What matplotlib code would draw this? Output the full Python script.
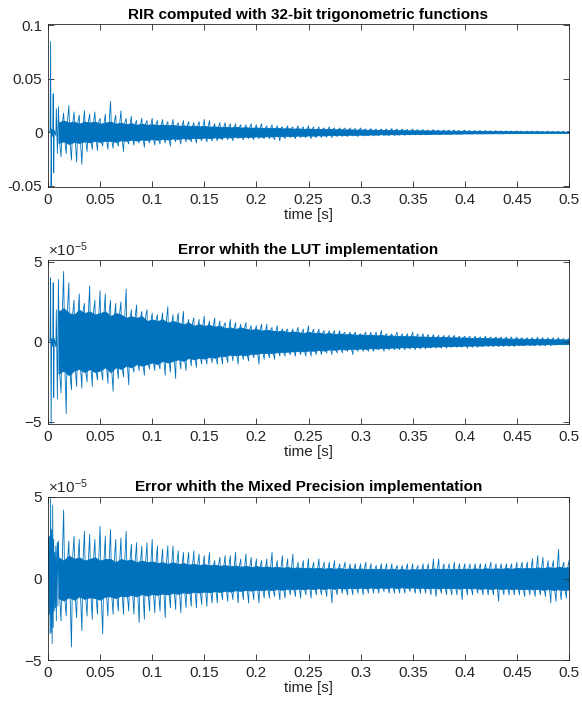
import numpy as np
import matplotlib
matplotlib.use("Agg")
import matplotlib.pyplot as plt
from matplotlib.ticker import ScalarFormatter, FuncFormatter

plt.rcParams['font.family'] = ['Liberation Sans', 'DejaVu Sans']
plt.rcParams['axes.unicode_minus'] = False
plt.rcParams['mathtext.fontset'] = 'custom'
plt.rcParams['mathtext.rm'] = 'Liberation Sans'

# ---- values ----
# every 5 ms from 0.010 to 0.500 s: peak above / below zero (hi, lo)
# and the edges of the dense band (core_hi, core_lo)
t_main = np.round(np.arange(0.010, 0.5001, 0.005), 3)

# panel 1 (units of 0.01)
rir_t0 = [0, 0.002, 0.0025, 0.003, 0.0035, 0.0045, 0.005, 0.0055, 0.006, 0.0075, 0.008, 0.009]
rir_y0 = [0, 0.1, 8.5, -5.5, 0.3, -0.4, 3.6, -3.8, 0.2, -0.3, 2.2, -2.0]
rir_hi = [2.4, 1.8, 2.5, 1.9, 1.6, 2.0, 1.7, 1.9, 1.3, 1.7,
          2.9, 1.6, 2.0, 1.3, 1.5, 1.1, 1.3, 1.1, 1.3, 1.1,
          1.2, 1.0, 1.2, 0.9, 1.1, 1.0, 0.9, 1.0, 1.2, 1.1,
          0.8, 0.9, 0.9, 0.8, 0.8, 0.7, 0.7, 0.8, 0.7, 0.8,
          0.6, 0.7, 0.6, 0.5, 0.6, 0.5, 0.6, 0.5, 0.6, 0.5,
          0.5, 0.4, 0.5, 0.4, 0.4, 0.4, 0.4, 0.35, 0.4, 0.3,
          0.35, 0.3, 0.3, 0.3, 0.35, 0.3, 0.3, 0.25, 0.3, 0.25,
          0.25, 0.2, 0.25, 0.2, 0.2, 0.2, 0.2, 0.15, 0.2, 0.15,
          0.15, 0.15, 0.15, 0.12, 0.15, 0.12, 0.12, 0.1, 0.12, 0.1,
          0.1, 0.1, 0.1, 0.08, 0.1, 0.08, 0.08, 0.08, 0.07]
rir_lo = [-2.3, -2.0, -2.6, -2.8, -3.0, -1.8, -1.6, -1.7, -1.3, -1.6,
          -1.5, -1.3, -1.8, -1.1, -1.2, -1.0, -1.4, -1.0, -1.2, -1.1,
          -1.0, -1.3, -0.9, -1.1, -0.9, -0.9, -1.0, -0.8, -0.9, -0.8,
          -0.8, -0.7, -0.7, -0.8, -0.6, -0.7, -0.6, -0.7, -0.6, -0.6,
          -0.6, -0.7, -0.8, -0.6, -0.5, -0.6, -0.5, -0.5, -0.6, -0.5,
          -0.5, -0.45, -0.5, -0.4, -0.4, -0.4, -0.35, -0.4, -0.35, -0.3,
          -0.35, -0.3, -0.3, -0.3, -0.3, -0.25, -0.3, -0.25, -0.25, -0.25,
          -0.25, -0.2, -0.2, -0.2, -0.2, -0.18, -0.18, -0.15, -0.15, -0.15,
          -0.15, -0.12, -0.12, -0.12, -0.12, -0.1, -0.1, -0.1, -0.1, -0.1,
          -0.1, -0.08, -0.08, -0.08, -0.08, -0.07, -0.07, -0.07, -0.07]
rir_core_hi = [0.9, 1.1, 0.9, 1.0, 0.8, 1.0, 0.9, 1.0, 0.8, 0.9,
               1.0, 0.8, 0.9, 0.75, 0.85, 0.7, 0.8, 0.7, 0.75, 0.68,
               0.72, 0.65, 0.68, 0.6, 0.65, 0.58, 0.62, 0.55, 0.6, 0.52,
               0.55, 0.5, 0.52, 0.46, 0.5, 0.44, 0.47, 0.42, 0.45, 0.4,
               0.42, 0.38, 0.42, 0.36, 0.38, 0.34, 0.36, 0.32, 0.35, 0.3,
               0.32, 0.29, 0.31, 0.27, 0.29, 0.26, 0.27, 0.24, 0.26, 0.23,
               0.24, 0.22, 0.23, 0.2, 0.22, 0.19, 0.2, 0.18, 0.19, 0.17,
               0.18, 0.16, 0.17, 0.15, 0.16, 0.14, 0.15, 0.13, 0.14, 0.12,
               0.13, 0.11, 0.12, 0.1, 0.11, 0.1, 0.1, 0.09, 0.1, 0.08,
               0.09, 0.08, 0.08, 0.07, 0.08, 0.07, 0.07, 0.06, 0.06]
rir_core_lo = [-1.0, -0.85, -1.1, -0.9, -1.0, -0.85, -0.95, -0.8, -0.9, -0.8,
               -0.8, -0.9, -0.75, -0.8, -0.7, -0.78, -0.68, -0.72, -0.65, -0.7,
               -0.62, -0.68, -0.58, -0.62, -0.55, -0.6, -0.52, -0.56, -0.5, -0.54,
               -0.48, -0.52, -0.45, -0.48, -0.43, -0.46, -0.41, -0.44, -0.39, -0.42,
               -0.37, -0.4, -0.35, -0.38, -0.33, -0.36, -0.31, -0.34, -0.3, -0.32,
               -0.28, -0.3, -0.26, -0.28, -0.25, -0.27, -0.23, -0.25, -0.22, -0.24,
               -0.21, -0.22, -0.19, -0.21, -0.18, -0.2, -0.17, -0.18, -0.16, -0.17,
               -0.15, -0.16, -0.14, -0.15, -0.13, -0.14, -0.12, -0.13, -0.11, -0.12,
               -0.1, -0.11, -0.1, -0.1, -0.09, -0.1, -0.08, -0.09, -0.08, -0.08,
               -0.07, -0.08, -0.07, -0.07, -0.06, -0.07, -0.06, -0.06, -0.06]

# panel 2 (units of 1e-5)
lut_t0 = [0, 0.002, 0.0025, 0.003, 0.0035, 0.0045, 0.005, 0.0055, 0.006, 0.0075, 0.008, 0.009]
lut_y0 = [0, 0.1, 4.0, -5.5, 0.2, -0.3, 3.7, -3.5, 0.2, -0.3, 2.0, -3.6]
lut_hi = [3.9, 4.4, 3.7, 2.6, 3.0, 2.4, 3.5, 2.6, 3.2, 3.0,
          2.6, 2.4, 2.5, 3.3, 2.0, 2.3, 1.9, 2.0, 1.8, 1.7,
          1.8, 2.2, 1.7, 1.8, 1.9, 1.4, 1.5, 1.4, 1.6, 1.3,
          1.5, 1.3, 1.2, 1.4, 1.2, 1.1, 1.2, 1.0, 1.0, 1.1,
          1.1, 0.9, 1.0, 0.8, 0.8, 0.8, 0.9, 0.8, 1.0, 0.8,
          0.8, 0.7, 0.7, 0.7, 0.7, 0.6, 0.6, 0.6, 0.5, 0.6,
          0.6, 0.6, 0.7, 0.5, 0.5, 0.6, 0.5, 0.5, 0.6, 0.5,
          0.5, 0.45, 0.45, 0.4, 0.4, 0.4, 0.4, 0.35, 0.35, 0.35,
          0.35, 0.3, 0.35, 0.3, 0.3, 0.3, 0.3, 0.3, 0.3, 0.25,
          0.25, 0.25, 0.3, 0.25, 0.25, 0.25, 0.25, 0.2, 0.2]
lut_lo = [-3.2, -4.5, -3.0, -2.8, -2.9, -2.5, -2.8, -2.4, -2.4, -2.6,
          -3.1, -2.3, -2.2, -2.7, -1.9, -1.8, -2.1, -1.7, -1.8, -1.7,
          -2.1, -1.9, -2.3, -1.7, -1.8, -1.5, -1.6, -1.4, -1.4, -1.3,
          -1.4, -1.4, -1.3, -1.2, -1.4, -1.1, -1.2, -1.0, -1.4, -1.1,
          -1.0, -1.1, -0.9, -0.9, -0.8, -0.9, -0.8, -0.9, -0.9, -0.8,
          -0.8, -0.7, -0.8, -0.7, -0.7, -0.6, -0.8, -0.6, -0.6, -0.6,
          -0.6, -0.5, -0.6, -0.5, -0.5, -0.5, -0.5, -0.45, -0.5, -0.45,
          -0.45, -0.4, -0.4, -0.4, -0.4, -0.35, -0.35, -0.35, -0.4, -0.35,
          -0.35, -0.3, -0.3, -0.3, -0.3, -0.3, -0.3, -0.3, -0.25, -0.25,
          -0.25, -0.25, -0.25, -0.25, -0.25, -0.2, -0.2, -0.2, -0.2]
lut_core_hi = [1.9, 2.1, 1.8, 1.7, 2.0, 1.8, 1.9, 1.7, 1.8, 1.9,
               1.6, 1.8, 1.7, 1.5, 1.6, 1.5, 1.6, 1.3, 1.4, 1.3,
               1.4, 1.2, 1.3, 1.2, 1.1, 1.2, 1.0, 1.1, 1.0, 1.05,
               0.95, 1.0, 0.85, 0.9, 0.8, 0.9, 0.8, 0.75, 0.8, 0.7,
               0.75, 0.7, 0.65, 0.7, 0.6, 0.65, 0.6, 0.55, 0.62, 0.55,
               0.58, 0.5, 0.55, 0.48, 0.52, 0.46, 0.48, 0.44, 0.46, 0.42,
               0.44, 0.4, 0.42, 0.38, 0.4, 0.35, 0.37, 0.34, 0.36, 0.32,
               0.33, 0.3, 0.32, 0.28, 0.3, 0.27, 0.28, 0.26, 0.27, 0.24,
               0.25, 0.23, 0.24, 0.21, 0.23, 0.2, 0.21, 0.19, 0.2, 0.18,
               0.19, 0.17, 0.18, 0.16, 0.17, 0.15, 0.16, 0.14, 0.15]
lut_core_lo = [-2.0, -1.8, -2.1, -1.8, -1.7, -1.9, -1.7, -1.9, -1.8, -1.6,
               -1.9, -1.6, -1.7, -1.5, -1.6, -1.4, -1.5, -1.4, -1.3, -1.4,
               -1.2, -1.3, -1.2, -1.1, -1.2, -1.0, -1.1, -1.0, -1.05, -0.95,
               -1.0, -0.9, -0.9, -0.8, -0.85, -0.8, -0.85, -0.75, -0.75, -0.7,
               -0.7, -0.72, -0.65, -0.65, -0.62, -0.6, -0.58, -0.6, -0.55, -0.56,
               -0.52, -0.55, -0.48, -0.5, -0.46, -0.48, -0.44, -0.45, -0.42, -0.44,
               -0.4, -0.42, -0.38, -0.4, -0.36, -0.37, -0.34, -0.35, -0.32, -0.34,
               -0.3, -0.32, -0.29, -0.3, -0.27, -0.28, -0.26, -0.26, -0.24, -0.25,
               -0.23, -0.24, -0.22, -0.22, -0.21, -0.21, -0.19, -0.2, -0.18, -0.19,
               -0.17, -0.18, -0.16, -0.17, -0.15, -0.16, -0.14, -0.15, -0.14]

# panel 3 (units of 1e-5)
mix_t0 = [0, 0.0005, 0.001, 0.0015, 0.002, 0.0025, 0.003, 0.0035, 0.004,
          0.0045, 0.005, 0.0055, 0.006, 0.0065, 0.007, 0.0075, 0.008, 0.0085, 0.009, 0.0095]
mix_y0 = [0, 2.5, -2.2, 2.6, -3.4, 4.9, -3.3, 3.0, -4.0, 4.5, -3.0, 2.4,
          -2.0, 1.6, -1.8, 2.0, -2.6, 1.5, 2.2, -1.7]
mix_hi = [2.3, 4.2, 2.3, 2.6, 2.4, 2.9, 2.7, 2.4, 3.2, 2.6,
          3.0, 2.4, 2.5, 2.9, 2.1, 2.2, 2.0, 2.2, 2.4, 2.0,
          1.8, 2.0, 2.0, 1.7, 1.6, 1.6, 1.7, 1.5, 1.4, 1.6,
          1.1, 1.3, 1.4, 1.4, 1.6, 1.2, 1.5, 1.3, 1.2, 1.1,
          1.2, 1.6, 1.1, 1.4, 1.2, 1.5, 1.0, 1.1, 1.2, 1.0,
          1.2, 1.0, 1.0, 1.1, 0.9, 1.0, 0.9, 0.9, 0.9, 1.0,
          0.9, 0.8, 0.9, 0.9, 0.9, 0.8, 0.8, 0.9, 0.9, 0.8,
          0.9, 0.9, 1.2, 1.2, 0.9, 0.9, 1.0, 0.9, 0.9, 0.9,
          0.9, 0.9, 0.9, 1.0, 0.9, 0.9, 0.9, 0.9, 1.0, 1.0,
          1.0, 1.2, 1.4, 1.3, 1.1, 1.1, 1.8, 1.0, 1.1]
mix_lo = [-2.6, -2.3, -4.2, -2.4, -3.2, -2.3, -2.5, -2.2, -3.4, -2.3,
          -2.2, -2.0, -2.2, -2.0, -2.2, -2.7, -2.5, -2.0, -2.1, -2.0,
          -2.4, -1.8, -1.9, -2.1, -1.8, -1.7, -1.8, -1.6, -1.7, -1.5,
          -1.5, -1.3, -1.4, -1.3, -1.5, -1.3, -1.5, -1.3, -1.5, -1.2,
          -1.2, -1.1, -1.3, -1.2, -1.0, -1.1, -1.2, -1.0, -1.2, -1.0,
          -1.0, -1.1, -1.5, -1.0, -0.9, -1.0, -1.0, -0.9, -1.0, -0.9,
          -0.9, -0.9, -0.8, -0.9, -0.9, -0.9, -0.9, -0.8, -0.9, -0.9,
          -0.9, -1.0, -1.1, -0.9, -1.0, -1.0, -1.0, -1.3, -1.0, -1.0,
          -0.9, -1.0, -1.0, -1.0, -1.4, -1.0, -1.0, -1.0, -1.0, -1.1,
          -1.0, -1.1, -1.0, -1.1, -1.5, -1.4, -1.3, -1.2, -1.0]
mix_core_hi = [1.3, 1.1, 1.4, 1.2, 1.3, 1.1, 1.2, 1.3, 1.1, 1.2,
               1.2, 1.0, 1.2, 1.1, 1.15, 1.0, 1.1, 1.0, 1.05, 0.95,
               1.0, 0.9, 1.0, 0.88, 0.95, 0.85, 0.9, 0.82, 0.88, 0.8,
               0.85, 0.78, 0.82, 0.75, 0.8, 0.72, 0.78, 0.7, 0.76, 0.7,
               0.74, 0.68, 0.72, 0.66, 0.7, 0.65, 0.68, 0.63, 0.67, 0.62,
               0.66, 0.6, 0.65, 0.6, 0.64, 0.58, 0.63, 0.58, 0.62, 0.57,
               0.6, 0.56, 0.6, 0.55, 0.6, 0.55, 0.58, 0.54, 0.58, 0.55,
               0.6, 0.56, 0.62, 0.58, 0.6, 0.56, 0.6, 0.57, 0.61, 0.58,
               0.62, 0.58, 0.63, 0.59, 0.62, 0.6, 0.64, 0.6, 0.65, 0.62,
               0.66, 0.62, 0.68, 0.64, 0.7, 0.65, 0.72, 0.66, 0.7]
mix_core_lo = [-1.2, -1.35, -1.15, -1.3, -1.1, -1.25, -1.15, -1.2, -1.3, -1.1,
               -1.1, -1.2, -1.05, -1.1, -1.0, -1.1, -0.95, -1.05, -0.95, -1.0,
               -0.92, -0.98, -0.88, -0.94, -0.85, -0.9, -0.82, -0.86, -0.8, -0.84,
               -0.78, -0.82, -0.75, -0.8, -0.72, -0.76, -0.7, -0.74, -0.68, -0.72,
               -0.67, -0.71, -0.65, -0.69, -0.63, -0.67, -0.62, -0.66, -0.61, -0.64,
               -0.6, -0.64, -0.59, -0.63, -0.58, -0.62, -0.57, -0.6, -0.56, -0.6,
               -0.55, -0.59, -0.55, -0.58, -0.54, -0.58, -0.54, -0.57, -0.55, -0.58,
               -0.56, -0.6, -0.57, -0.61, -0.57, -0.6, -0.58, -0.62, -0.58, -0.61,
               -0.59, -0.63, -0.6, -0.64, -0.6, -0.64, -0.61, -0.65, -0.62, -0.66,
               -0.63, -0.67, -0.64, -0.69, -0.65, -0.7, -0.66, -0.7, -0.68]

titles = ['RIR computed with 32-bit trigonometric functions',
          'Error whith the LUT implementation',
          'Error whith the Mixed Precision implementation']
xticks = [0, 0.05, 0.1, 0.15, 0.2, 0.25, 0.3, 0.35, 0.4, 0.45, 0.5]

blue = '#0072BD'
axcol = '#262626'

fig = plt.figure(figsize=(5.82, 7.09), dpi=100)
W, H = 582, 709


def panel(box, t0, y0, hi, lo, chi, clo, scale, ylim, yticks, title):
    left, top, right, bottom = box
    ax = fig.add_axes([left / W, 1 - bottom / H, (right - left) / W, (bottom - top) / H])
    # dense band
    ax.fill_between(t_main, np.array(clo) * scale, np.array(chi) * scale,
                    color=blue, lw=0.6, edgecolor=blue)
    # trace: peak up, band bottom, peak down, band top, next peak ...
    n = len(t_main)
    xs = np.empty(4 * n)
    ys = np.empty(4 * n)
    xs[0::4] = t_main
    xs[1::4] = t_main + 0.00125
    xs[2::4] = t_main + 0.0025
    xs[3::4] = t_main + 0.00375
    ys[0::4] = hi
    ys[1::4] = clo
    ys[2::4] = lo
    ys[3::4] = chi
    x = np.concatenate([t0, xs])
    y = np.concatenate([y0, ys]) * scale
    ax.plot(x, y, color=blue, lw=0.6)
    ax.set_xlim(0, 0.5)
    ax.set_ylim(*ylim)
    ax.set_xticks(xticks)
    ax.xaxis.set_major_formatter(FuncFormatter(lambda v, p: '%g' % v))
    ax.set_yticks(yticks)
    ax.tick_params(direction='in', top=True, right=True, length=4, width=0.6,
                   colors=axcol, labelsize=11, labelcolor=axcol, pad=4)
    for s in ax.spines.values():
        s.set_color(axcol)
        s.set_linewidth(0.6)
    ax.set_xlabel('time [s]', fontsize=11, color=axcol, labelpad=1)
    ax.set_title(title, fontsize=11, fontweight='bold', pad=4)
    return ax


ax1 = panel((48, 24.3, 569, 187.3), rir_t0, rir_y0, rir_hi, rir_lo, rir_core_hi, rir_core_lo,
            0.01, (-0.0515, 0.101), [-0.05, 0, 0.05, 0.1], titles[0])
ax1.yaxis.set_major_formatter(FuncFormatter(lambda v, p: '%g' % v))

for box, t0, y0, hi, lo, chi, clo, ylim, ttl in [
        ((48, 260, 569, 424), lut_t0, lut_y0, lut_hi, lut_lo, lut_core_hi, lut_core_lo,
         (-5.15e-5, 5.12e-5), titles[1]),
        ((48, 497, 569, 660), mix_t0, mix_y0, mix_hi, mix_lo, mix_core_hi, mix_core_lo,
         (-5e-5, 5e-5), titles[2])]:
    ax = panel(box, t0, y0, hi, lo, chi, clo, 1e-5, ylim, [-5e-5, 0, 5e-5], ttl)
    fmt = ScalarFormatter(useMathText=True)
    fmt.set_powerlimits((-3, 3))
    ax.yaxis.set_major_formatter(fmt)
    ax.yaxis.get_offset_text().set_fontsize(11)
    ax.yaxis.get_offset_text().set_color(axcol)

fig.savefig('out.png', dpi=100)
